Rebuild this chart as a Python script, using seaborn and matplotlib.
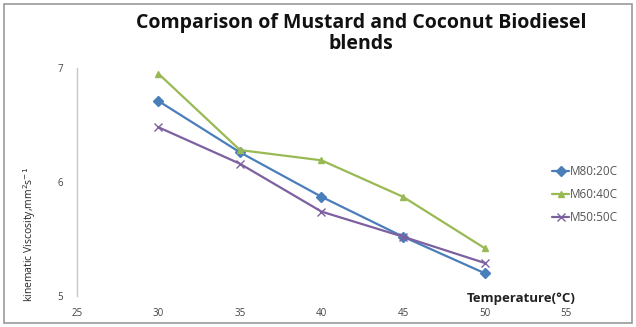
import numpy as np
import pandas as pd
import matplotlib
matplotlib.use('Agg')
import matplotlib.pyplot as plt
import seaborn as sns

temperature = [30, 35, 40, 45, 50]
m80_20 = [6.71, 6.26, 5.87, 5.52, 5.20]
m60_40 = [6.95, 6.28, 6.19, 5.87, 5.42]
m50_50 = [6.48, 6.16, 5.74, 5.52, 5.29]
blends = ['M80:20C', 'M60:40C', 'M50:50C']

df = pd.DataFrame({
    'Temperature': temperature * 3,
    'Viscosity': m80_20 + m60_40 + m50_50,
    'Blend': [b for b in blends for _ in temperature],
})

sns.set_style('white')
plt.rcParams['font.family'] = ['Open Sans', 'DejaVu Sans']

fig = plt.figure(figsize=(6.36, 3.27), dpi=100)
ax = fig.add_axes([0.121, 0.095, 0.769, 0.697])

palette = {'M80:20C': '#4a7ebb', 'M60:40C': '#98b954', 'M50:50C': '#7d60a0'}
markers = {'M80:20C': 'D', 'M60:40C': '^', 'M50:50C': 'x'}
for b in blends:
    sub = df[df['Blend'] == b]
    sns.lineplot(data=sub, x='Temperature', y='Viscosity', ax=ax, color=palette[b],
                 marker=markers[b], markersize=5 if b != 'M50:50C' else 6,
                 markeredgecolor=palette[b], markeredgewidth=1.0, linewidth=1.6,
                 label=b)

ax.set_xlim(25, 55)
ax.set_ylim(5, 7)
ax.set_xticks([25, 30, 35, 40, 45, 50, 55])
ax.set_yticks([5, 6, 7])
ax.tick_params(axis='x', labelsize=7, colors='#444444', length=0, pad=9)
ax.tick_params(axis='y', labelsize=7, colors='#444444', length=0, pad=10)
for s in ['top', 'right', 'bottom']:
    ax.spines[s].set_visible(False)
ax.spines['left'].set_color('#c8c8c8')
ax.spines['left'].set_linewidth(1.0)

ax.set_xlabel('')
ax.set_ylabel(r'kinematic Viscosity,mm$^2$s$^{-1}$', fontsize=7.5)
ax.yaxis.set_label_coords(-0.08, 0.27)
fig.text(0.819, 0.086, 'Temperature(°C)', fontsize=9.5, fontweight='bold',
         ha='center', va='center', color='#222222')

fig.text(0.568, 0.897, 'Comparison of Mustard and Coconut Biodiesel\nblends',
         fontsize=14, fontweight='bold', ha='center', va='center',
         linespacing=1.05, color='#111111')

leg = ax.legend(loc='center left', bbox_to_anchor=(0.96, 0.445), frameon=False,
                fontsize=8.5, handlelength=1.4, labelspacing=0.85, handletextpad=0.1,
                borderpad=0)
for t in leg.get_texts():
    t.set_color('#555555')

fig.patches.append(plt.Rectangle((0.006, 0.012), 0.988, 0.976, transform=fig.transFigure,
                                 fill=False, edgecolor='#999999', linewidth=1.2))

fig.savefig('out.png', dpi=100)
